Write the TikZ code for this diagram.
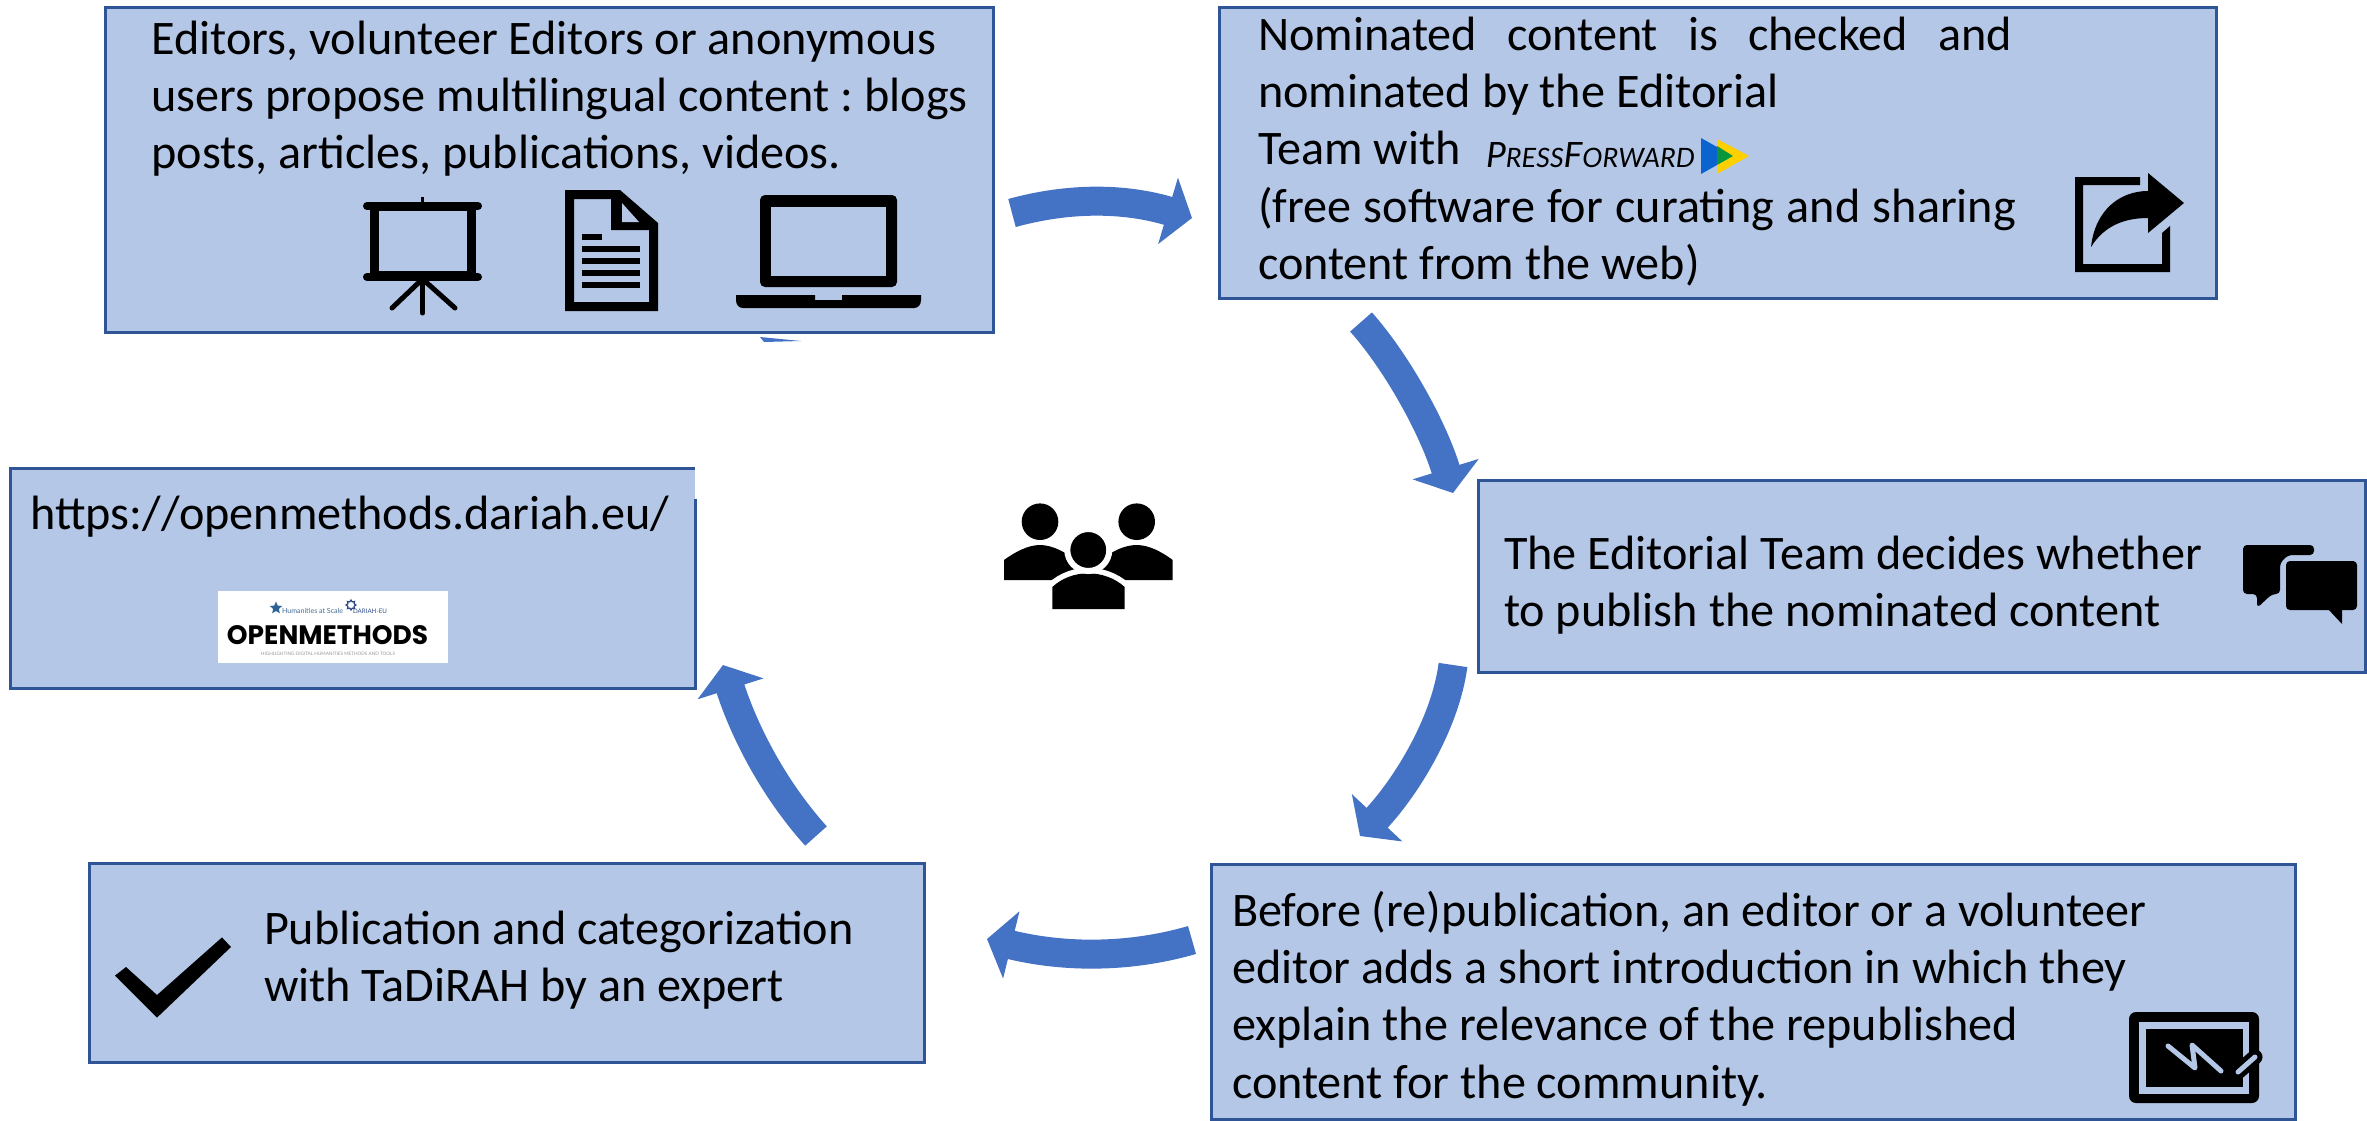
\documentclass[tikz,border=0pt]{standalone}
\usepackage{fontspec}
\usepackage{graphicx}
\setmainfont{Carlito}
\newfontfamily\logofont{Poppins}
\newfontfamily\pfont{Lato}
\usetikzlibrary{arrows.meta,shapes.geometric}
\definecolor{boxfill}{HTML}{B4C7E7}
\definecolor{boxedge}{HTML}{2F5597}
\definecolor{flowblue}{HTML}{4472C4}
\newcommand{\topfix}{\rule{0pt}{40pt}}
\frenchspacing
\tikzset{
  boxst/.style={draw=boxedge,fill=boxfill,line width=3pt,inner sep=0pt,outer sep=0pt},
  txt/.style={anchor=north west,inner sep=0pt,outer sep=0pt,align=left,font=\fontsize{48.2}{57.4}\selectfont},
  flow/.style={draw=flowblue,line width=29pt,-{Triangle[length=25pt,width=68pt,fill=flowblue]}},
  ink/.style={fill=black,draw=none},
}
\begin{document}
\begin{tikzpicture}[x=1pt,y=-1pt]
\useasboundingbox (0,0) rectangle (2367,1120);
\clip (0,0) rectangle (2367,1120);
% boxes
\node[boxst,minimum width=888pt,minimum height=325pt] (propose) at (549,169.5) {};
\node[boxst,minimum width=997pt,minimum height=291pt] (nominate) at (1717.5,152.5) {};
\node[boxst,minimum width=887pt,minimum height=192pt] (decide) at (1921.5,576) {};
\node[boxst,minimum width=1084pt,minimum height=255pt] (before) at (1753,991.5) {};
\node[boxst,minimum width=834.5pt,minimum height=199pt] (publish) at (506.75,962.5) {};
\node[fill=boxfill,inner sep=0pt,outer sep=0pt,minimum width=685pt,minimum height=220pt] (site) at (352.5,578) {};
\draw[draw=boxedge,line width=3pt] ([yshift=-30.5pt]site.north east) -- (site.south east) -- (site.south west) -- (site.north west) -- (site.north east);
% texts
\node[txt] (t1) at (151.5,14) {\topfix Editors, volunteer Editors or anonymous\\users propose multilingual content : blogs\\posts, articles, publications, videos.};
\node[txt] (t2) at (1258,10) {\topfix\makebox[754pt][s]{Nominated content is checked and}\\nominated by the Editorial\\Team with\\\makebox[758pt][s]{(free software for curating and sharing}\\content from the web)};
\node[txt] (t3) at (1504,529) {\topfix The Editorial Team decides whether\\to publish the nominated content};
\node[txt] (t4) at (1232,886) {\topfix Before (re)publication, an editor or a volunteer\\editor adds a short introduction in which they\\explain the relevance of the republished\\content for the community.};
\node[txt] (t5) at (264,904) {\topfix Publication and categorization\\with TaDiRAH by an expert};
\node[txt] (t6) at (30.5,489) {\topfix https://openmethods.dariah.eu/};
% connectors
\coordinate (a1s) at (1012,213);
\coordinate (a1e) at (1192,218);
\coordinate (a2s) at (1361,322);
\coordinate (a2e) at (1453,493);
\coordinate (a3s) at (1453,665);
\coordinate (a3e) at (1360,836);
\coordinate (a4s) at (1192,940);
\coordinate (a4e) at (987,939);
\coordinate (a5s) at (816,836);
\coordinate (a5e) at (723,665);
\draw[flow] (a1s) .. controls (1070,197) and (1125,198) .. (a1e);
\draw[flow] (a2s) .. controls (1395,360) and (1432,425) .. (a2e);
\draw[flow] (a3s) .. controls (1445,725) and (1405,788) .. (a3e);
\draw[flow] (a4s) .. controls (1130,958) and (1065,958) .. (a4e);
\draw[flow] (a5s) .. controls (770,785) and (742,725) .. (a5e);
% sliver below first box
\fill[flowblue] (760,337) -- (801,341) -- (764,342) -- cycle;
% presentation icon
\draw[line width=8pt,line cap=round] (367,206) -- (478,206);
\draw[line width=3pt] (422.5,197) -- (422.5,204);
\draw[line width=9pt] (374.3,206) rectangle (471.5,275);
\draw[line width=8pt,line cap=round] (367,277) -- (478,277);
\draw[line width=5pt,line cap=round] (422.5,279) -- (392,308);
\draw[line width=5pt,line cap=round] (422.5,279) -- (422.5,313);
\draw[line width=5pt,line cap=round] (422.5,279) -- (455,308);
% document icon
\fill[ink,even odd rule] (565,190) -- (620,190) -- (658,223) -- (658,311) -- (565,311) -- cycle
  (574,199) -- (574,302) -- (649,302) -- (649,230) -- (611,230) -- (611,199) -- cycle;
\fill[boxfill] (622,203) -- (639,222) -- (622,222) -- cycle;
\fill[ink] (581.6,234) rectangle (602,240);
\fill[ink] (581.6,246) rectangle (640,252);
\fill[ink] (581.6,258) rectangle (640,264);
\fill[ink] (581.6,270) rectangle (640,276);
\fill[ink] (581.6,282) rectangle (640,288);
% laptop icon
\fill[ink,rounded corners=5pt] (760,287) -- (760,195) -- (897,195) -- (897,287) -- cycle;
\fill[boxfill] (771.4,207) rectangle (886,276);
\fill[ink] (736,295) -- (815,295) -- (815,300) -- (842,300) -- (842,295) -- (921,295) -- (921,300) .. controls (921,305) and (918,308) .. (914,308) -- (743,308) .. controls (739,308) and (736,305) .. (736,300) -- cycle;
% share icon
\fill[ink] (2140,177) -- (2075,177) -- (2075,272) -- (2170,272) -- (2170,226) -- (2162,233) -- (2162,264) -- (2083,264) -- (2083,185) -- (2140,185) -- cycle;
\fill[ink] (2184,203) -- (2148,173) -- (2148,191) .. controls (2120,191) and (2095,210) .. (2091,247) .. controls (2104,226) and (2124,218) .. (2148,218) -- (2148,233) -- cycle;
% PressForward logo
\node[inner sep=0pt,outer sep=0pt,anchor=base west] (pf) at (1486,167) {\resizebox{209pt}{25pt}{\pfont\itshape\fontsize{34}{34}\selectfont P{\fontsize{26}{26}\selectfont RESS}F{\fontsize{26}{26}\selectfont ORWARD}}};
\fill[fill={rgb,255:red,11;green,99;blue,206}] (1701,138) -- (1733,156) -- (1701,174) -- cycle;
\fill[fill={rgb,255:red,255;green,208;blue,0}] (1717,139) -- (1749,156) -- (1717,174) -- cycle;
\fill[fill={rgb,255:red,10;green,150;blue,60}] (1717,146) -- (1733,156) -- (1717,165) -- cycle;
% chat icon
\fill[ink,rounded corners=4pt] (2243,545) -- (2314,545) -- (2314,555) -- (2288,555) -- (2280,563) -- (2280,594) -- (2272,594) -- (2257,608) -- (2257,594) -- (2243,594) -- cycle;
\fill[ink,rounded corners=4pt] (2286,561) -- (2357,561) -- (2357,610) -- (2286,610) -- cycle;
\fill[ink] (2328,609) -- (2342,624) -- (2342,609) -- cycle;
% tablet icon
\fill[ink,rounded corners=7pt] (2129,1012) rectangle (2259,1103);
\fill[boxfill] (2139,1022) rectangle (2249,1094);
\fill[ink] (2146,1029) rectangle (2243,1087);
\draw[draw=boxfill,line width=5pt,line cap=round,line join=round] (2168,1046) -- (2195,1068) -- (2192,1045) -- (2221,1071);
\draw[line width=15pt,line cap=round] (2238,1072) -- (2255,1057);
\draw[draw=boxfill,line width=5pt,line cap=round] (2238,1072) -- (2255,1057);
% check icon
\fill[ink] (115,975.6) -- (157,1017.6) -- (231,947) -- (222,937.4) -- (157,995) -- (126,967) -- cycle;
% people icon
\fill[ink] (1004,580) -- (1004,560) .. controls (1015,552) and (1028,545) .. (1040,545) .. controls (1052,545) and (1065,552) .. (1076,560) -- (1076,580) -- cycle;
\fill[ink] (1100.7,580) -- (1100.7,560) .. controls (1111,552) and (1124,545) .. (1136.7,545) .. controls (1149,545) and (1162,552) .. (1172.7,560) -- (1172.7,580) -- cycle;
\fill[ink] (1040,521.7) circle (18.3);
\fill[ink] (1136.7,521.7) circle (18.3);
\draw[draw=white,line width=11pt,fill=black] (1052.3,609) -- (1052.3,587) .. controls (1062,578) and (1075,573.3) .. (1088.3,573.3) .. controls (1101,573.3) and (1115,578) .. (1124.7,587) -- (1124.7,609) -- cycle;
\fill[ink] (1052.3,609) -- (1052.3,587) .. controls (1062,578) and (1075,573.3) .. (1088.3,573.3) .. controls (1101,573.3) and (1115,578) .. (1124.7,587) -- (1124.7,609) -- cycle;
\draw[draw=white,line width=6pt,fill=black] (1088.3,550) circle (21);
% OpenMethods logo
\node[fill=white,inner sep=0pt,outer sep=0pt,minimum width=230pt,minimum height=72pt] (logo) at (333,627) {};
\node[inner sep=0pt] (om) at (327.5,635) {\resizebox{201pt}{19pt}{\logofont\bfseries OPENMETHODS}};
\node[star,star points=5,star point ratio=2.2,fill={rgb,255:red,44;green,98;blue,150},inner sep=0pt,minimum size=13pt] (s1) at (276,608) {};
\node[inner sep=0pt,text={rgb,255:red,70;green,110;blue,150}] (hs) at (312.5,611) {\resizebox{61pt}{!}{\pfont Humanities at Scale}};
\node[star,star points=8,star point ratio=1.5,draw={rgb,255:red,44;green,70;blue,130},line width=1.2pt,inner sep=0pt,minimum size=10pt] (s2) at (351,605) {};
\node[inner sep=0pt,text={rgb,255:red,50;green,80;blue,140}] (de) at (370,611) {\resizebox{34pt}{!}{\pfont DARIAH-EU}};
\node[inner sep=0pt,text={rgb,255:red,150;green,150;blue,150}] (tag) at (328,654) {\resizebox{134pt}{!}{\pfont HIGHLIGHTING DIGITAL HUMANITIES METHODS AND TOOLS}};
\end{tikzpicture}
\end{document}
